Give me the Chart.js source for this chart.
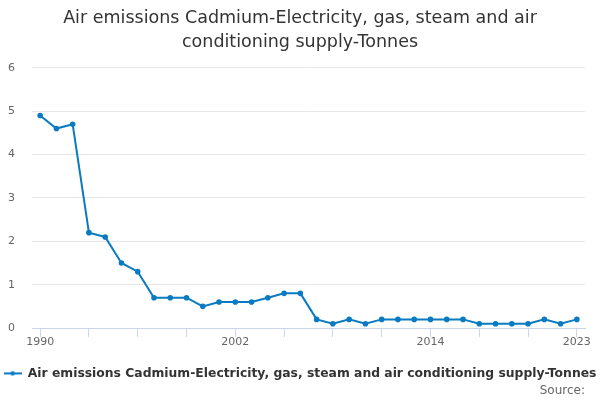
<!DOCTYPE html>
<html>
<head>
<meta charset="utf-8">
<script src="https://cdn.jsdelivr.net/npm/chart.js@4/dist/chart.umd.min.js"></script>
<style>
  html, body { margin: 0; padding: 0; background: #fff; }
  #wrap { width: 600px; height: 400px; }
</style>
</head>
<body>
<div id="wrap"><canvas id="emissionsChart"></canvas></div>
<script>
const years = ['1990','1991','1992','1993','1994','1995','1996','1997','1998','1999',
  '2000','2001','2002','2003','2004','2005','2006','2007','2008','2009',
  '2010','2011','2012','2013','2014','2015','2016','2017','2018','2019',
  '2020','2021','2022','2023'];
const tonnes = [4.9, 4.6, 4.7, 2.2, 2.1, 1.5, 1.3, 0.7, 0.7, 0.7,
  0.5, 0.6, 0.6, 0.6, 0.7, 0.8, 0.8, 0.2, 0.1, 0.2,
  0.1, 0.2, 0.2, 0.2, 0.2, 0.2, 0.2, 0.1, 0.1, 0.1,
  0.1, 0.2, 0.1, 0.2];
const shownYears = ['1990', '2002', '2014', '2023'];
const seriesName = 'Air emissions Cadmium-Electricity, gas, steam and air conditioning supply-Tonnes';
const lineColour = '#0a7bc1';

// legend marker: short line with a dot, like the series
function legendIcon(){
    const c = document.createElement('canvas');
    c.width = 18; c.height = 6;
    const g = c.getContext('2d');
    g.strokeStyle = lineColour;
    g.lineWidth = 2;
    g.beginPath(); g.moveTo(0, 3); g.lineTo(18, 3); g.stroke();
    g.fillStyle = lineColour;
    g.beginPath(); g.arc(9, 3, 2.2, 0, Math.PI * 2); g.fill();
    return c;
}

document.addEventListener('DOMContentLoaded', function(){
    const ctx = document.getElementById('emissionsChart').getContext('2d');
    new Chart(ctx, {
        type: 'line',
        data: {
            labels: years,
            datasets: [{
                label: seriesName,
                data: tonnes,
                borderColor: lineColour,
                backgroundColor: lineColour,
                borderWidth: 2,
                pointRadius: 1.8,
                pointHoverRadius: 2,
                fill: false,
                tension: 0,
                yAxisID: 'y'
            }]
        },
        options: {
            responsive: true,
            maintainAspectRatio: false,
            animation: false,
            layout: { autoPadding: false, padding: 0 },
            plugins: {
                title: {
                    display: true,
                    text: ['Air emissions Cadmium-Electricity, gas, steam and air', 'conditioning supply-Tonnes'],
                    color: '#333333',
                    font: { family: 'DejaVu Sans', size: 17.5, weight: 'normal', lineHeight: 1.35 },
                    padding: { top: 7, bottom: 13.6 }
                },
                subtitle: {
                    display: true,
                    position: 'bottom',
                    align: 'end',
                    fullSize: false,
                    text: 'Source:',
                    color: '#666666',
                    font: { family: 'DejaVu Sans', size: 12 },
                    padding: { top: -6, bottom: 2 }
                },
                legend: {
                    position: 'bottom',
                    labels: {
                        color: '#333333',
                        font: { family: 'DejaVu Sans', size: 12.35, weight: 'bold' },
                        usePointStyle: true,
                        pointStyle: legendIcon(),
                        pointStyleWidth: 18,
                        padding: 10
                    }
                },
                tooltip: { enabled: false }
            },
            scales: {
                x: {
                    offset: true,
                    border: { color: '#ccd6eb' },
                    grid: {
                        offset: false,
                        drawOnChartArea: false,
                        tickLength: 9,
                        color: (c) => (c.index % 3 === 0 ? '#ccd6eb' : 'rgba(0,0,0,0)')
                    },
                    ticks: {
                        autoSkip: false,
                        maxRotation: 0,
                        color: '#666666',
                        font: { family: 'DejaVu Sans', size: 11 },
                        padding: -2,
                        callback: function(value){
                            const lab = this.getLabelForValue(value);
                            return shownYears.includes(lab) ? lab : '';
                        }
                    },
                    afterFit: (scale) => { scale.height += 11; }
                },
                y: {
                    min: 0,
                    max: 6,
                    border: { display: false },
                    grid: { color: '#e6e6e6', drawTicks: false },
                    ticks: {
                        stepSize: 1,
                        color: '#666666',
                        font: { family: 'DejaVu Sans', size: 11 },
                        padding: 17
                    },
                    afterFit: (scale) => { scale.width = 32; }
                },
                // empty right-hand axis, only keeps a margin on the right
                yRight: {
                    position: 'right',
                    border: { display: false },
                    grid: { display: false },
                    ticks: { display: false },
                    afterFit: (scale) => { scale.width = 15; }
                }
            }
        }
    });
});
</script>
</body>
</html>
